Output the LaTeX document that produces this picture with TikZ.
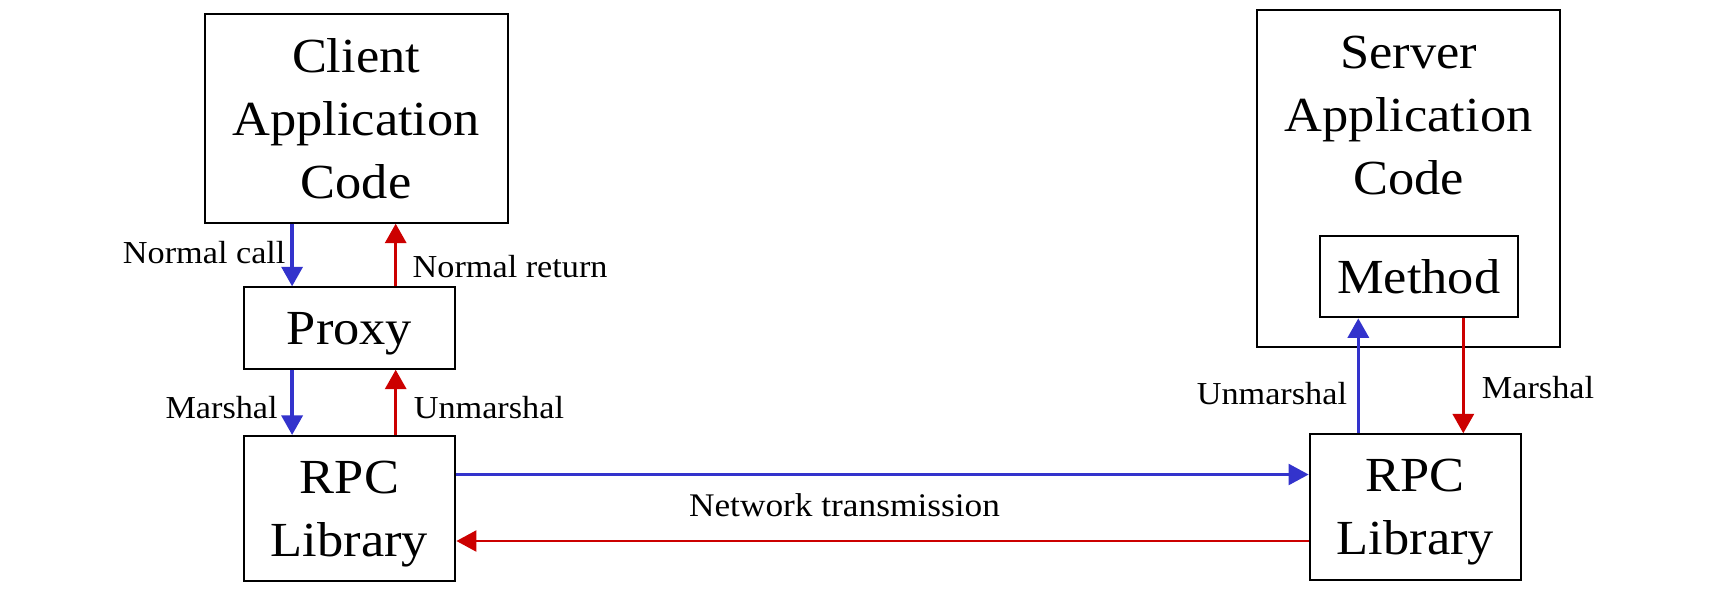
\documentclass[tikz,border=0pt]{standalone}
\usepackage{fontspec}
\setmainfont{Liberation Serif}[FakeStretch=1.07]
\usetikzlibrary{arrows.meta}
\definecolor{cblue}{RGB}{51,51,204}
\definecolor{cred}{RGB}{204,0,0}
\begin{document}
\begin{tikzpicture}[x=1pt,y=-1pt,
  box/.style={draw, line width=2pt, inner sep=0pt, align=center, font=\fontsize{49}{63}\selectfont, text depth=0pt},
  big/.style={align=center, font=\fontsize{49}{63}\selectfont, inner sep=0pt, text depth=0pt},
  lbl/.style={inner sep=0pt, font=\fontsize{32}{38}\selectfont},
  arr/.style={line width=3.4pt, -{Triangle[width=21pt,length=19.5pt]}},
  netarr/.style={line width=2.3pt, -{Triangle[width=21pt,length=20pt]}}
]
\useasboundingbox (0,0) rectangle (1728,598);
\node[box, minimum width=302.9pt, minimum height=208.7pt] (client) at (356.1,118.3) {Client\\Application\\Code};
\node[box, minimum width=211.8pt, minimum height=81.4pt] (proxy) at (349.5,328) {Proxy};
\node[box, minimum width=211.8pt, minimum height=144.7pt] (rpcL) at (349.5,508.3) {RPC\\Library};
\node[draw, line width=2pt, minimum width=303.3pt, minimum height=336.7pt, inner sep=0pt] (server) at (1408.6,178.3) {};
\node[big] (servertext) at (1408.6,115.3) {Server\\Application\\Code};
\node[box, minimum width=197.6pt, minimum height=81.3pt] (method) at (1418.7,276.7) {Method};
\node[box, minimum width=211.6pt, minimum height=145.7pt] (rpcR) at (1415.4,507.2) {RPC\\Library};

\coordinate (xa) at (292.1,0);
\coordinate (xb) at (395.7,0);
\coordinate (xc) at (1358.3,0);
\coordinate (xd) at (1463.3,0);
\coordinate (ya) at (0,474.5);
\coordinate (yb) at (0,541);

\draw[arr, cblue] (client.south -| xa) -- (proxy.north -| xa);
\draw[arr, cred] (proxy.north -| xb) -- (client.south -| xb);
\draw[arr, cblue] (proxy.south -| xa) -- (rpcL.north -| xa);
\draw[arr, cred] (rpcL.north -| xb) -- (proxy.south -| xb);
\draw[netarr, cblue] (rpcL.east |- ya) -- (rpcR.west |- ya);
\draw[netarr, cred] (rpcR.west |- yb) -- (rpcL.east |- yb);
\draw[arr, cblue] (rpcR.north -| xc) -- (method.south -| xc);
\draw[arr, cred] (method.south -| xd) -- (rpcR.north -| xd);

\node[lbl, anchor=base east] (lcall) at (285.7,263.3) {Normal call};
\node[lbl, anchor=base west] (lret) at (412.5,277.7) {Normal return};
\node[lbl, anchor=base east] (lmar) at (277.9,418.3) {Marshal};
\node[lbl, anchor=base west] (lunm) at (413.6,418.3) {Unmarshal};
\node[lbl, anchor=base east] (runm) at (1347.2,404) {Unmarshal};
\node[lbl, anchor=base west] (rmar) at (1481.7,398) {Marshal};
\node[lbl, anchor=base, font=\fontsize{33}{40}\selectfont] (lnet) at (844.5,516) {Network transmission};
\end{tikzpicture}
\end{document}
